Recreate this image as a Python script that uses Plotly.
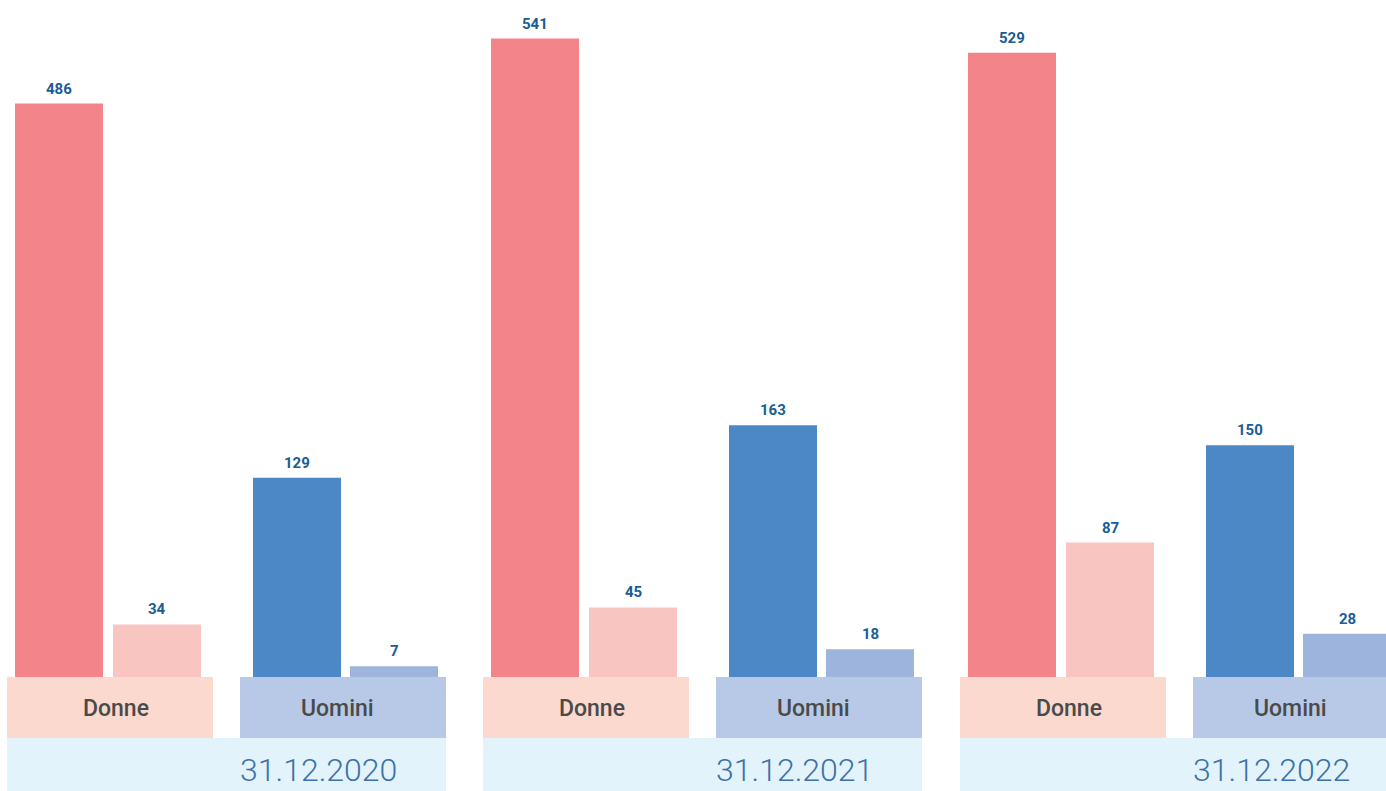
import plotly.graph_objects as go

# --- data -------------------------------------------------------------
years = ["31.12.2020", "31.12.2021", "31.12.2022"]
group_labels = ["Donne", "Uomini"]
donne_main = [486, 541, 529]
donne_sec = [34, 45, 87]
uomini_main = [129, 163, 150]
uomini_sec = [7, 18, 28]

# --- styling ------------------------------------------------------------
W, H = 1386, 791
C_DONNE_MAIN = "#F3848A"
C_DONNE_SEC = "#F9C5C1"
C_UOMINI_MAIN = "#4D88C6"
C_UOMINI_SEC = "#9DB4DD"
C_DONNE_BOX = "#FCD9CE"
C_UOMINI_BOX = "#B8C9E7"
C_YEAR_BOX = "#E3F3FB"
C_VALUE = "#1A5C94"
C_GROUP_TXT = "#4A4A4A"
C_YEAR_TXT = "#3C72A8"
FONT = "Roboto"

BASE_PX = 677          # pixel row of the bar baseline
PANEL_OFFSETS = [0, 476, 953]
BOX_W = 206
DONNE_LEFT, UOMINI_LEFT = 7, 240
BAR_PX = 88


def px_x(p):
    return p / W


def px_y(p):
    return 1 - p / H


fig = go.Figure()
layout_axes = {}
shapes = []
annotations = []

# y axis for the tall women's bars, y2 for the other series
y_dom = [px_y(BASE_PX), 1]
layout_axes["yaxis"] = dict(domain=y_dom, range=[0, BASE_PX / 1.18], visible=False, fixedrange=True)
layout_axes["yaxis2"] = dict(domain=y_dom, range=[0, BASE_PX / 1.5448], visible=False,
                             fixedrange=True, overlaying="y")

ax_n = 0
for i, year in enumerate(years):
    off = PANEL_OFFSETS[i]
    groups = [
        ("Donne", DONNE_LEFT + off, 52, 98, [donne_main[i], donne_sec[i]],
         [C_DONNE_MAIN, C_DONNE_SEC], ["y", "y2"], C_DONNE_BOX, 108.5),
        ("Uomini", UOMINI_LEFT + off, 57, 97, [uomini_main[i], uomini_sec[i]],
         [C_UOMINI_MAIN, C_UOMINI_SEC], ["y2", "y2"], C_UOMINI_BOX, 97.5),
    ]
    for name, left, c0, unit, vals, cols, yrefs, boxcol, txt_dx in groups:
        ax_n += 1
        xname = "x" if ax_n == 1 else f"x{ax_n}"
        right = min(left + BOX_W, W)
        layout_axes["xaxis" if ax_n == 1 else f"xaxis{ax_n}"] = dict(
            domain=[px_x(left), px_x(right)],
            range=[-c0 / unit, (right - left - c0) / unit],
            visible=False, fixedrange=True, anchor="y",
        )
        for k, (v, col, yr) in enumerate(zip(vals, cols, yrefs)):
            fig.add_trace(go.Bar(
                x=[k], y=[v], width=BAR_PX / unit, marker=dict(color=col, line=dict(width=0)),
                xaxis=xname, yaxis=yr, showlegend=False, hoverinfo="skip",
            ))
            annotations.append(dict(
                x=k, y=v, xref=xname, yref=yr, text=f"<b>{v}</b>", showarrow=False,
                yanchor="middle", yshift=15, font=dict(family=FONT, size=15, color=C_VALUE),
            ))
        # group label box
        shapes.append(dict(type="rect", xref="paper", yref="paper",
                           x0=px_x(left), x1=px_x(right), y0=px_y(738), y1=px_y(BASE_PX),
                           fillcolor=boxcol, line=dict(width=0), layer="below"))
        annotations.append(dict(
            x=px_x(left + txt_dx), y=px_y(708), xref="paper", yref="paper",
            text=name, showarrow=False, xanchor="center", yanchor="middle",
            font=dict(family=FONT, size=23, color=C_GROUP_TXT, weight=500),
        ))
    # year band
    y_left = DONNE_LEFT + off
    y_right = min(UOMINI_LEFT + off + BOX_W, W)
    shapes.append(dict(type="rect", xref="paper", yref="paper",
                       x0=px_x(y_left), x1=px_x(y_right), y0=0, y1=px_y(738),
                       fillcolor=C_YEAR_BOX, line=dict(width=0), layer="below"))
    annotations.append(dict(
        x=px_x(y_left + 311), y=px_y(770), xref="paper", yref="paper",
        text=year, showarrow=False, xanchor="center", yanchor="middle",
        font=dict(family=FONT, size=32, color=C_YEAR_TXT, weight=300),
    ))

fig.update_layout(
    width=W, height=H,
    margin=dict(l=0, r=0, t=0, b=0),
    paper_bgcolor="white", plot_bgcolor="rgba(0,0,0,0)",
    barmode="overlay", showlegend=False,
    shapes=shapes, annotations=annotations,
    **layout_axes,
)

fig.write_html("out.html", config={"displayModeBar": False})
